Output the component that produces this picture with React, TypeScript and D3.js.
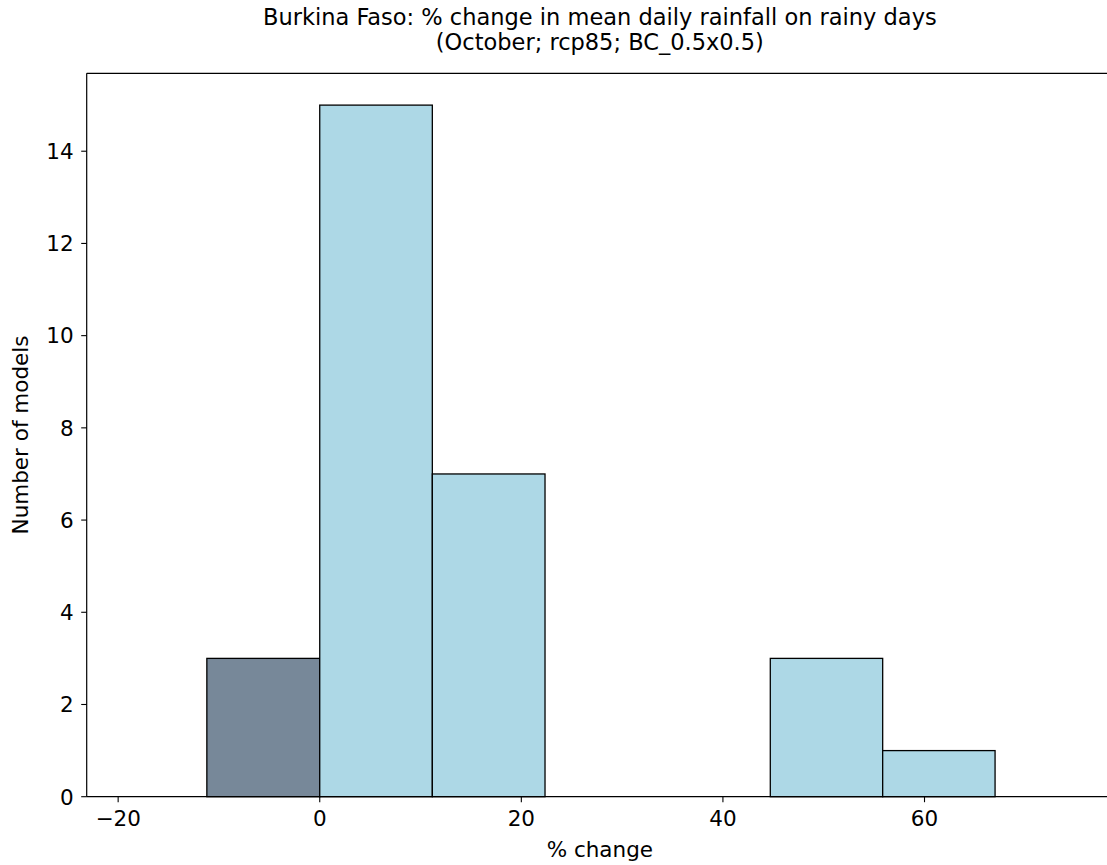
import React from "react";
import * as d3 from "d3";

const binEdges = [-11.2, 0, 11.17, 22.35, 33.52, 44.7, 55.85, 67.0];
const counts = [3, 15, 7, 0, 0, 3, 1];
const barColors = ["#778899", "#add8e6", "#add8e6", "#add8e6", "#add8e6", "#add8e6", "#add8e6"];
const xTicks = [-20, 0, 20, 40, 60];
const yTicks = [0, 2, 4, 6, 8, 10, 12, 14];
const titleLines = [
  "Burkina Faso: % change in mean daily rainfall on rainy days",
  "(October; rcp85; BC_0.5x0.5)",
];
const xLabel = "% change";
const yLabel = "Number of models";

const W = 1107;
const H = 865;
const left = 86.7;
const right = 1113;
const top = 73.3;
const bottom = 796.7;
const font = "'DejaVu Sans', sans-serif";
const fs = 21.5;
const tfs = 22.5;

export default function App() {
  const x = d3.scaleLinear().domain([-23.12, 78.7]).range([left, right]);
  const y = d3.scaleLinear().domain([0, 15.69]).range([bottom, top]);
  const fmt = (v: number) => (v < 0 ? "\u2212" + Math.abs(v) : String(v));
  return (
    <svg width={W} height={H} style={{ position: "absolute", left: 0, top: 0, background: "#fff" }}>
      <rect x={0} y={0} width={W} height={H} fill="#fff" />
      {counts.map((c, i) =>
        c > 0 ? (
          <rect
            key={i}
            x={x(binEdges[i])}
            y={y(c)}
            width={x(binEdges[i + 1]) - x(binEdges[i])}
            height={y(0) - y(c)}
            fill={barColors[i]}
            stroke="#000"
            strokeWidth={1.3}
          />
        ) : null
      )}
      <line x1={left} x2={left} y1={top} y2={bottom} stroke="#000" strokeWidth={1.2} />
      <line x1={left} x2={right} y1={bottom} y2={bottom} stroke="#000" strokeWidth={1.2} />
      <line x1={left} x2={right} y1={top} y2={top} stroke="#000" strokeWidth={1.2} />
      {xTicks.map((t) => (
        <g key={t}>
          <line x1={x(t)} x2={x(t)} y1={bottom} y2={bottom + 5.5} stroke="#000" strokeWidth={1.1} />
          <text x={x(t)} y={bottom + 29} textAnchor="middle" fontFamily={font} fontSize={fs} fill="#000">
            {fmt(t)}
          </text>
        </g>
      ))}
      {yTicks.map((t) => (
        <g key={t}>
          <line x1={left - 5.5} x2={left} y1={y(t)} y2={y(t)} stroke="#000" strokeWidth={1.1} />
          <text x={left - 13} y={y(t) + 7.8} textAnchor="end" fontFamily={font} fontSize={fs} fill="#000">
            {t}
          </text>
        </g>
      ))}
      <text x={(left + right) / 2} y={857} textAnchor="middle" fontFamily={font} fontSize={fs} fill="#000">
        {xLabel}
      </text>
      <text
        transform={`translate(${28},${(top + bottom) / 2}) rotate(-90)`}
        textAnchor="middle"
        fontFamily={font}
        fontSize={fs}
        fill="#000"
      >
        {yLabel}
      </text>
      {titleLines.map((l, i) => (
        <text key={i} x={(left + right) / 2} y={25 + i * 25} textAnchor="middle" fontFamily={font} fontSize={tfs} fill="#000">
          {l}
        </text>
      ))}
    </svg>
  );
}
